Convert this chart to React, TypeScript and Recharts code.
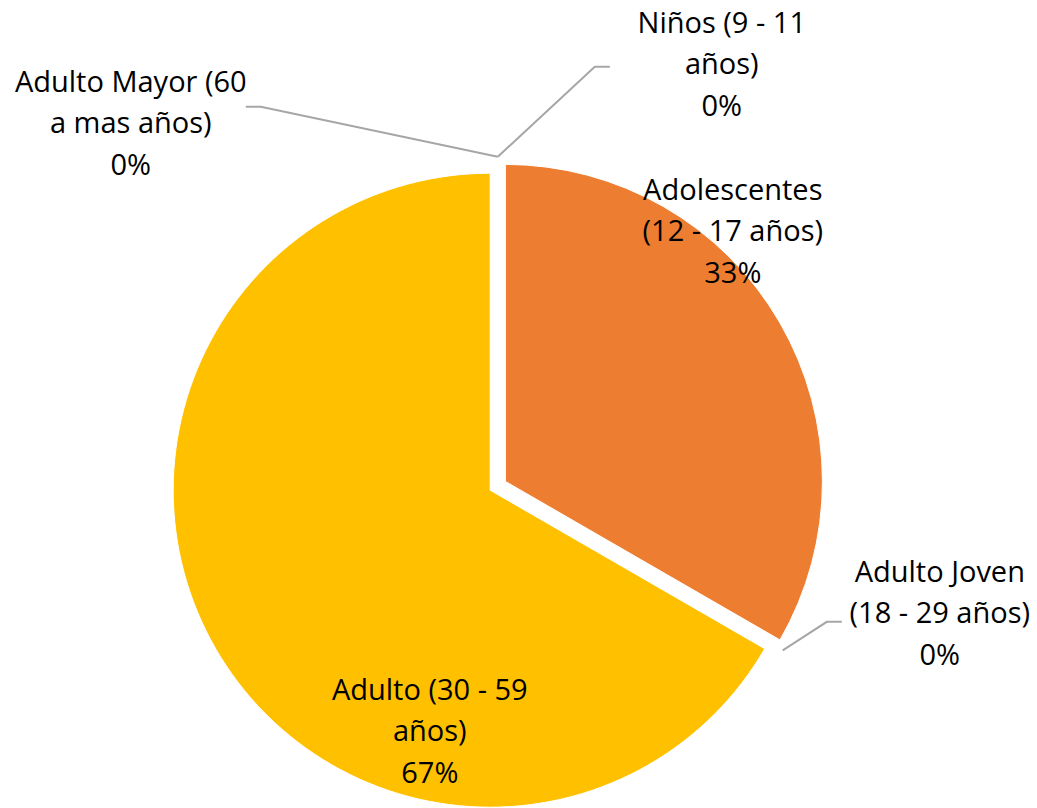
import React from "react";
import { PieChart, Pie, Cell } from "recharts";

// ---- data ----
const categories = [
  "Niños (9 - 11 años)",
  "Adolescentes (12 - 17 años)",
  "Adulto Joven (18 - 29 años)",
  "Adulto (30 - 59 años)",
  "Adulto Mayor (60 a mas años)",
];
const values = [0, 1, 0, 2, 0];
const colors = ["#4472C4", "#ED7D31", "#A5A5A5", "#FFC000", "#5B9BD5"];

// words on first label line, label offset from pie centre, leader elbow/end
const labelLayout = [
  { wrap: 4, dx: 224, dy: -453, leader: [[97, -419], [112, -419]] },
  { wrap: 1, dx: 235, dy: -286, leader: null },
  { wrap: 2, dx: 442, dy: 96, leader: [[329, 136], [344, 136]] },
  { wrap: 4, dx: -68, dy: 214, leader: null },
  { wrap: 3, dx: -367, dy: -394, leader: [[-237, -379], [-252, -379]] },
];

const data = categories.map((name, i) => ({ name, value: values[i] }));

const W = 1037;
const H = 808;
const CX = 497.8;
const CY = 485.8;
const R = 317;
const EXPLODE = 8.8;
const START = 90;
const END = -270;
const RADIAN = Math.PI / 180;
const FONT = "'Open Sans', 'Noto Sans', sans-serif";
const FS = 29;
const LH = 41.5;

const total = values.reduce((a, b) => a + b, 0);
const midAngles = values.map((v, i) => {
  const before = values.slice(0, i).reduce((a, b) => a + b, 0);
  return START - ((before + v / 2) / total) * 360;
});

const renderLabel = (props: any) => {
  const { cx, cy, midAngle, outerRadius, percent, index, name } = props;
  const lay = labelLayout[index];
  const words = String(name).split(" ");
  const lines = [
    words.slice(0, lay.wrap).join(" "),
    words.slice(lay.wrap).join(" "),
    `${Math.round(percent * 100)}%`,
  ].filter((l) => l.length > 0);
  const tx = cx + lay.dx;
  const ty = cy + lay.dy;
  let leader = null;
  if (lay.leader) {
    const r0 = outerRadius + 12;
    const sx = cx + r0 * Math.cos(-midAngle * RADIAN);
    const sy = cy + r0 * Math.sin(-midAngle * RADIAN);
    const pts = [[sx, sy], ...lay.leader.map(([x, y]) => [cx + x, cy + y])];
    leader = (
      <polyline
        points={pts.map((p) => p.join(",")).join(" ")}
        fill="none"
        stroke="#A6A6A6"
        strokeWidth={2}
      />
    );
  }
  return (
    <g key={`lbl-${index}`}>
      {leader}
      {lines.map((l, i) => (
        <text
          key={i}
          x={tx}
          y={ty + i * LH}
          textAnchor="middle"
          fill="#000"
          fontFamily={FONT}
          fontSize={FS}
        >
          {l}
        </text>
      ))}
    </g>
  );
};

const explodedPie = (idx: number) => {
  const m = midAngles[idx];
  const cx = CX + EXPLODE * Math.cos(-m * RADIAN);
  const cy = CY + EXPLODE * Math.sin(-m * RADIAN);
  return (
    <Pie
      key={`pie-${idx}`}
      data={data}
      dataKey="value"
      nameKey="name"
      cx={cx}
      cy={cy}
      outerRadius={R}
      startAngle={START}
      endAngle={END}
      isAnimationActive={false}
      label={false}
      labelLine={false}
    >
      {data.map((_, i) => (
        <Cell
          key={i}
          fill={i === idx ? colors[i] : "none"}
          stroke={i === idx ? "#fff" : "none"}
          strokeWidth={1}
        />
      ))}
    </Pie>
  );
};

export default function App() {
  return (
    <div style={{ position: "absolute", left: 0, top: 0, width: W, height: H, background: "#fff" }}>
      <PieChart width={W} height={H} margin={{ top: 0, right: 0, bottom: 0, left: 0 }}>
        {values.map((v, i) => (v > 0 ? explodedPie(i) : null))}
        <Pie
          data={data}
          dataKey="value"
          nameKey="name"
          cx={CX}
          cy={CY}
          outerRadius={R}
          startAngle={START}
          endAngle={END}
          isAnimationActive={false}
          label={renderLabel}
          labelLine={false}
        >
          {data.map((_, i) => (
            <Cell key={i} fill="none" stroke="none" />
          ))}
        </Pie>
      </PieChart>
    </div>
  );
}
